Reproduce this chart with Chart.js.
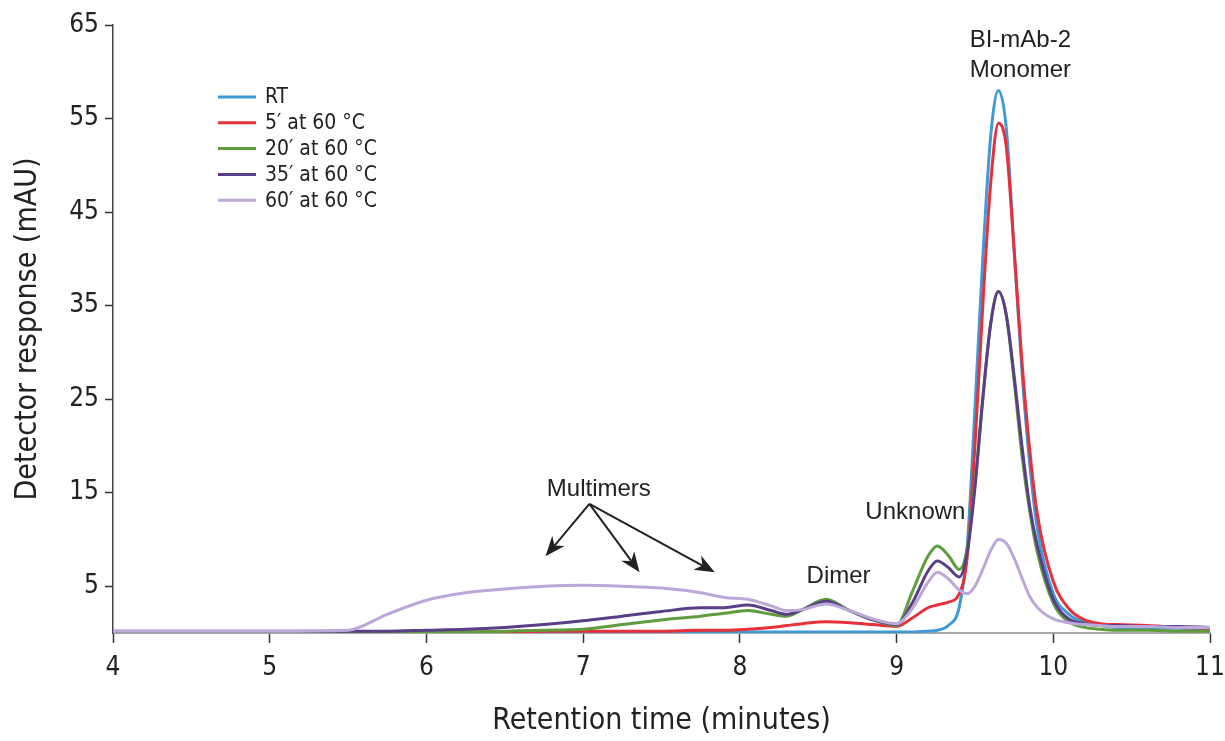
<!DOCTYPE html>
<html>
<head>
<meta charset="utf-8">
<title>BI-mAb-2 heat stress chromatogram</title>
<script src="https://cdn.jsdelivr.net/npm/chart.js@4.4.1/dist/chart.umd.min.js"></script>
<style>
  html, body { margin: 0; padding: 0; background: #fff; }
</style>
</head>
<body>
<canvas id="chart" width="1225" height="741"></canvas>
<script>
// ================= DATA =================
// retention time (minutes), shared by all traces
const time = [4.0, 4.5, 5.0, 5.5, 5.75, 6.0, 6.25, 6.5, 6.75, 7.0, 7.25, 7.5, 7.75, 7.9, 8.05,
              8.2, 8.3, 8.4, 8.55, 8.7, 8.85, 9.0, 9.1, 9.2, 9.26, 9.33, 9.4, 9.45, 9.5, 9.55,
              9.6, 9.65, 9.7, 9.75, 9.8, 9.85, 9.9, 10.0, 10.1, 10.2, 10.3, 10.4, 10.6, 10.8, 11.0];

// detector response (mAU)
const rt = [0.1, 0.1, 0.1, 0.1, 0.1, 0.1, 0.1, 0.1, 0.1, 0.1, 0.1, 0.1, 0.1, 0.1, 0.1,
            0.1, 0.1, 0.1, 0.1, 0.1, 0.1, 0.1, 0.1, 0.2, 0.3, 0.8, 2.8, 9, 24, 40,
            53, 58, 54, 41, 28, 18, 11, 4.2, 2.0, 1.1, 0.8, 0.6, 0.5, 0.5, 0.4];
const min5 = [0.1, 0.1, 0.1, 0.1, 0.1, 0.1, 0.1, 0.1, 0.2, 0.2, 0.2, 0.2, 0.3, 0.3, 0.4,
              0.6, 0.8, 1.0, 1.2, 1.1, 0.9, 0.7, 1.6, 2.7, 3.0, 3.3, 4.2, 8, 20, 35,
              48, 54.5, 52, 41, 29, 19.5, 12.5, 5.5, 2.6, 1.4, 1.0, 0.9, 0.8, 0.6, 0.5];
const min20 = [0.0, 0.0, 0.0, 0.0, 0.0, 0.1, 0.1, 0.2, 0.3, 0.4, 0.9, 1.4, 1.8, 2.1, 2.4,
               2.0, 1.8, 2.5, 3.6, 2.4, 1.4, 0.8, 4.4, 8.2, 9.3, 8.3, 6.8, 9, 16, 25,
               33, 36.5, 34, 27, 19, 13, 8.5, 3.2, 1.2, 0.6, 0.4, 0.3, 0.3, 0.2, 0.2];
const min35 = [0.2, 0.2, 0.2, 0.2, 0.2, 0.3, 0.4, 0.6, 0.9, 1.3, 1.8, 2.3, 2.7, 2.7, 3.0,
               2.4, 2.0, 2.5, 3.4, 2.4, 1.4, 0.9, 3.2, 6.6, 7.7, 7.0, 6.0, 8.5, 15.5, 25,
               33, 36.5, 34, 27.5, 20, 13.5, 9.2, 3.6, 1.5, 1.0, 0.8, 0.8, 0.7, 0.7, 0.6];
const min60 = [0.2, 0.2, 0.2, 0.3, 2.0, 3.5, 4.3, 4.7, 5.0, 5.1, 5.0, 4.8, 4.3, 3.8, 3.6,
               2.9, 2.4, 2.5, 3.1, 2.4, 1.5, 1.0, 2.6, 5.4, 6.5, 5.8, 4.6, 4.2, 5.0, 6.8,
               8.8, 10.0, 9.6, 8.0, 5.9, 3.9, 2.7, 1.5, 1.1, 0.9, 0.8, 0.7, 0.7, 0.6, 0.6];

const seriesLabels = ["RT", "5\u2032 at 60 \u00B0C", "20\u2032 at 60 \u00B0C", "35\u2032 at 60 \u00B0C", "60\u2032 at 60 \u00B0C"];
const seriesColors = ["#3f9ad6", "#e6303a", "#609c3c", "#5a3e88", "#bca8d8"];
const yTicks = [5, 15, 25, 35, 45, 55, 65];

// ================= STYLE =================
const NARROW = "'Liberation Sans Narrow', 'DejaVu Sans Condensed', sans-serif";
const PLAIN = "'Liberation Sans', Arial, sans-serif";
const INK = "#222";

function toPoints(values) {
    return time.map((t, i) => ({ x: t, y: values[i] }));
}

const allSeries = [rt, min5, min20, min35, min60];
// later traces drawn on top (lower order = on top)
const drawOrder = [5, 4, 3, 2, 1];

const datasets = allSeries.map((vals, i) => ({
    label: seriesLabels[i],
    data: toPoints(vals),
    borderColor: seriesColors[i],
    borderWidth: 3,
    pointRadius: 0,
    fill: false,
    cubicInterpolationMode: 'monotone',
    order: drawOrder[i]
}));

// ================= LEGEND + ANNOTATIONS =================
function drawArrow(ctx, x1, y1, x2, y2) {
    const ang = Math.atan2(y2 - y1, x2 - x1);
    const len = 20, half = 8, notch = 6;
    const bx = x2 - Math.cos(ang) * (len - notch);
    const by = y2 - Math.sin(ang) * (len - notch);
    ctx.beginPath();
    ctx.moveTo(x1, y1);
    ctx.lineTo(bx, by);
    ctx.stroke();
    const px = -Math.sin(ang), py = Math.cos(ang);
    const rx = x2 - Math.cos(ang) * len, ry = y2 - Math.sin(ang) * len;
    ctx.beginPath();
    ctx.moveTo(x2, y2);
    ctx.lineTo(rx + px * half, ry + py * half);
    ctx.lineTo(bx, by);
    ctx.lineTo(rx - px * half, ry - py * half);
    ctx.closePath();
    ctx.fill();
}

const overlay = {
    id: 'overlay',
    afterDatasetsDraw(chart) {
        const ctx = chart.ctx;
        const xs = chart.scales.x, ys = chart.scales.y;
        const X = v => xs.getPixelForValue(v);
        const Y = v => ys.getPixelForValue(v);
        ctx.save();

        // legend
        ctx.font = "21px " + NARROW;
        ctx.textBaseline = 'middle';
        ctx.textAlign = 'left';
        seriesLabels.forEach((lab, i) => {
            const yy = 97 + i * 25.8;
            ctx.strokeStyle = seriesColors[i];
            ctx.lineWidth = 3;
            ctx.beginPath();
            ctx.moveTo(218, yy);
            ctx.lineTo(256, yy);
            ctx.stroke();
            ctx.fillStyle = INK;
            ctx.fillText(lab, 265, yy + 1);
        });

        // peak labels
        ctx.font = "24px " + PLAIN;
        ctx.textAlign = 'center';
        ctx.fillStyle = INK;
        ctx.fillText("BI-mAb-2", X(9.79), Y(63.4));
        ctx.fillText("Monomer", X(9.79), Y(60.2));
        ctx.fillText("Unknown", X(9.12), Y(12.9));
        ctx.fillText("Dimer", X(8.63), Y(6.1));
        ctx.fillText("Multimers", X(7.1), Y(15.4));

        // multimer arrows
        ctx.strokeStyle = INK;
        ctx.fillStyle = INK;
        ctx.lineWidth = 2;
        const ox = X(7.04), oy = Y(13.8);
        drawArrow(ctx, ox, oy, X(6.76), Y(8.2));
        drawArrow(ctx, ox, oy, X(7.36), Y(6.5));
        drawArrow(ctx, ox, oy, X(7.84), Y(6.5));

        ctx.restore();
    }
};

// ================= CHART =================
new Chart(document.getElementById('chart').getContext('2d'), {
    type: 'line',
    data: { datasets: datasets },
    plugins: [overlay],
    options: {
        responsive: false,
        animation: false,
        devicePixelRatio: 1,
        layout: { padding: { top: 25, right: 15, left: 0, bottom: 0 } },
        plugins: {
            legend: { display: false },
            tooltip: { enabled: false }
        },
        scales: {
            x: {
                type: 'linear',
                min: 4,
                max: 11,
                ticks: { stepSize: 1, color: INK, padding: 10, font: { size: 26, family: NARROW } },
                grid: { drawOnChartArea: false, drawTicks: true, tickLength: 10, tickColor: '#333', tickWidth: 1.5 },
                border: { display: true, color: '#a8a8a8', width: 2 },
                title: {
                    display: true, text: 'Retention time (minutes)', color: INK,
                    font: { size: 30, family: NARROW }, padding: { top: 0, bottom: 2 }
                },
                afterFit(scale) {
                    scale.height = 108;
                    scale.paddingLeft = 0;
                    scale.paddingRight = 0;
                }
            },
            y: {
                type: 'linear',
                min: 0,
                max: 65,
                afterBuildTicks(scale) { scale.ticks = yTicks.map(v => ({ value: v })); },
                ticks: { color: INK, padding: 6, font: { size: 26, family: NARROW } },
                grid: { drawOnChartArea: false, drawTicks: true, tickLength: 8, tickColor: '#333', tickWidth: 1.5 },
                border: { display: true, color: '#444', width: 1.5 },
                title: {
                    display: true, text: 'Detector response (mAU)', color: INK,
                    font: { size: 30, family: NARROW }, padding: { top: 10, bottom: 0 }
                },
                afterFit(scale) {
                    scale.width = 113;
                    scale.paddingTop = 0;
                    scale.paddingBottom = 0;
                }
            }
        }
    }
});
</script>
</body>
</html>
